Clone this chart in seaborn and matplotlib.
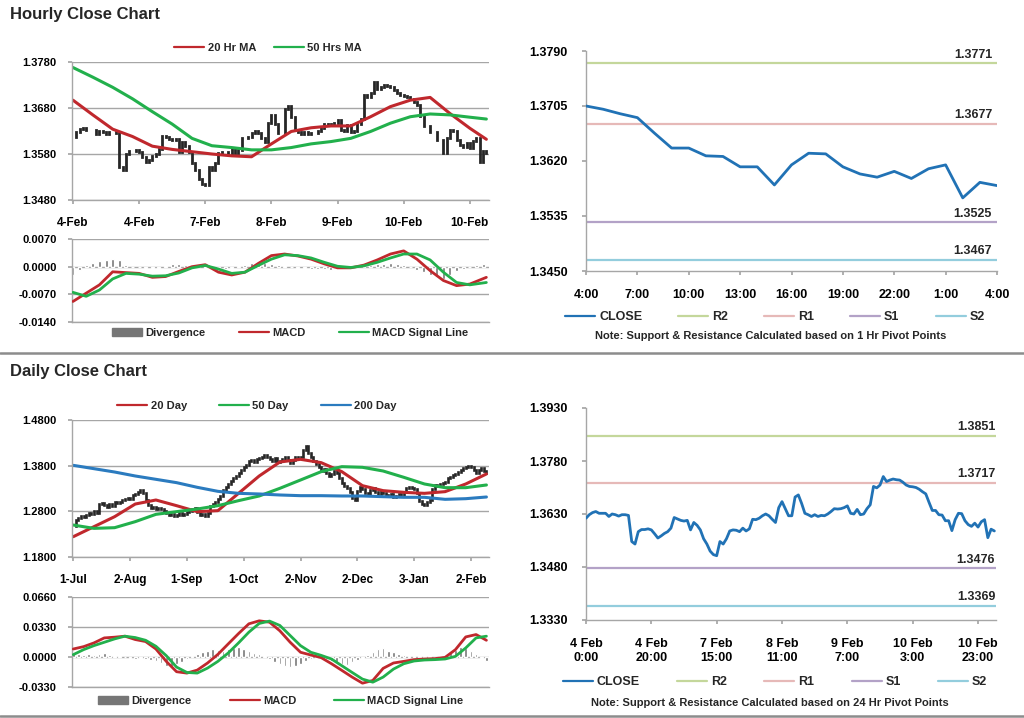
import numpy as np
import matplotlib
matplotlib.use("Agg")
import matplotlib.pyplot as plt
from matplotlib.lines import Line2D
from matplotlib.patches import Patch
import seaborn as sns

# ---------------- hourly data (126 hourly bars, 4-Feb .. 10-Feb) ----------------
hourly_close = [
    1.3618, 1.3628, 1.3634, 1.3637, 1.3632, 1.3632, 1.3632, 1.3623, 1.3630, 1.3628,
    1.3624, 1.3628, 1.3628, 1.3626, 1.3552, 1.3545, 1.3580, 1.3586, 1.3586, 1.3588,
    1.3585, 1.3574, 1.3562, 1.3568, 1.3575, 1.3580, 1.3590, 1.3620, 1.3616, 1.3612,
    1.3610, 1.3612, 1.3585, 1.3606, 1.3598, 1.3585, 1.3560, 1.3545, 1.3525, 1.3515,
    1.3512, 1.3552, 1.3545, 1.3560, 1.3582, 1.3585, 1.3584, 1.3580, 1.3590, 1.3582,
    1.3588, 1.3615, 1.3614, 1.3618, 1.3625, 1.3630, 1.3625, 1.3615, 1.3606, 1.3648,
    1.3665, 1.3645, 1.3625, 1.3625, 1.3678, 1.3684, 1.3660, 1.3632, 1.3628, 1.3623,
    1.3628, 1.3623, 1.3626, 1.3625, 1.3630, 1.3637, 1.3645, 1.3644, 1.3645, 1.3648,
    1.3653, 1.3632, 1.3630, 1.3643, 1.3628, 1.3630, 1.3645, 1.3656, 1.3708, 1.3704,
    1.3712, 1.3736, 1.3722, 1.3726, 1.3729, 1.3727, 1.3726, 1.3720, 1.3712, 1.3708,
    1.3707, 1.3705, 1.3700, 1.3693, 1.3687, 1.3663, 1.3640, 1.3640, 1.3628, 1.3627,
    1.3611, 1.3611, 1.3583, 1.3614, 1.3632, 1.3631, 1.3611, 1.3600, 1.3595, 1.3604,
    1.3593, 1.3608, 1.3614, 1.3563, 1.3587, 1.3582,
]
hourly_tick_pos = [0, 20, 40, 60, 80, 100, 120]
hourly_tick_labels = ["4-Feb", "4-Feb", "7-Feb", "8-Feb", "9-Feb", "10-Feb", "10-Feb"]

ma_idx_h = [0, 6, 12, 18, 24, 30, 36, 42, 48, 54, 60, 66, 72, 78, 84, 90, 96, 102, 108, 114, 120, 125]
ma20_h = [1.3697, 1.3665, 1.3634, 1.3618, 1.3597, 1.3590, 1.3585, 1.3580, 1.3576, 1.3574, 1.3602,
          1.3629, 1.3637, 1.3641, 1.3641, 1.3661, 1.3683, 1.3697, 1.3703, 1.3668, 1.3636, 1.3612]
ma50_h = [1.3768, 1.3747, 1.3725, 1.3700, 1.3672, 1.3645, 1.3614, 1.3598, 1.3594, 1.3589, 1.3589,
          1.3594, 1.3602, 1.3607, 1.3614, 1.3629, 1.3647, 1.3661, 1.3667, 1.3665, 1.3660, 1.3656]

macd_idx_h = list(range(0, 121, 4)) + [125]
macd_h = [-0.0088, -0.0067, -0.0046, -0.0013, -0.0015, -0.0017, -0.0027, -0.0025, -0.0012, 0.0000,
          0.0005, -0.0014, -0.0021, -0.0014, 0.0008, 0.0028, 0.0032, 0.0027, 0.0019, 0.0007,
          -0.0003, -0.0003, 0.0004, 0.0017, 0.0032, 0.0040, 0.0019, -0.0010, -0.0035, -0.0048,
          -0.0044, -0.0027]
signal_h = [-0.0065, -0.0075, -0.0059, -0.0031, -0.0017, -0.0019, -0.0024, -0.0023, -0.0016, -0.0003,
            0.0003, -0.0006, -0.0017, -0.0014, 0.0003, 0.0019, 0.0030, 0.0028, 0.0022, 0.0011,
            0.0001, -0.0002, 0.0002, 0.0011, 0.0022, 0.0032, 0.0032, 0.0017, -0.0014, -0.0040,
            -0.0046, -0.0040]
div_idx_h = list(range(0, 125, 2))
div_h = [-0.0020, -0.0008, 0.0004, 0.0010, 0.0014, 0.0017, 0.0020, 0.0016, 0.0004, -0.0002,
         -0.0002, -0.0004, -0.0004, -0.0003, 0.0002, 0.0006, 0.0006, 0.0005, 0.0003, 0.0002,
         -0.0003, -0.0006, -0.0008, -0.0006, -0.0004, 0.0001, 0.0005, 0.0009, 0.0011, 0.0010,
         0.0008, 0.0004, 0.0002, -0.0002, -0.0003, -0.0004, -0.0005, -0.0006, -0.0007, -0.0008,
         -0.0005, -0.0002, -0.0001, 0.0001, 0.0003, 0.0005, 0.0007, 0.0008, 0.0009, 0.0008,
         0.0005, -0.0002, -0.0008, -0.0014, -0.0020, -0.0026, -0.0030, -0.0020, -0.0012, -0.0006,
         -0.0002, 0.0005, 0.0008]

# last 25 hours with 1 Hr pivots
pivot_hour_labels = ["4:00", "7:00", "10:00", "13:00", "16:00", "19:00", "22:00", "1:00", "4:00"]
pivots_1h = [("R2", 1.3771), ("R1", 1.3677), ("S1", 1.3525), ("S2", 1.3467)]

# week of hourly closes with 24 Hr pivots
week_tick_labels = ["4 Feb\n0:00", "4 Feb\n20:00", "7 Feb\n15:00", "8 Feb\n11:00",
                    "9 Feb\n7:00", "10 Feb\n3:00", "10 Feb\n23:00"]
pivots_24h = [("R2", 1.3851), ("R1", 1.3717), ("S1", 1.3476), ("S2", 1.3369)]

# ---------------- daily data (161 sessions, 1-Jul .. 10-Feb) ----------------
daily_close = [
    1.2480, 1.2620, 1.2650, 1.2700, 1.2680, 1.2720, 1.2760, 1.2740, 1.2800, 1.2760,
    1.2960, 1.2990, 1.2940, 1.2900, 1.2950, 1.2920, 1.3000, 1.2980, 1.3010, 1.3040,
    1.3060, 1.3100, 1.3080, 1.3150, 1.3180, 1.3220, 1.3260, 1.3200, 1.3050, 1.2940,
    1.2880, 1.2900, 1.2860, 1.2870, 1.2850, 1.2800, 1.2760, 1.2720, 1.2740, 1.2700,
    1.2720, 1.2760, 1.2720, 1.2740, 1.2780, 1.2800, 1.2850, 1.2880, 1.2780, 1.2720,
    1.2740, 1.2700, 1.2760, 1.2920, 1.2950, 1.3000, 1.3060, 1.3140, 1.3260, 1.3340,
    1.3400, 1.3460, 1.3520, 1.3580, 1.3640, 1.3700, 1.3760, 1.3820, 1.3900, 1.3920,
    1.3880, 1.3940, 1.3960, 1.4000, 1.4040, 1.3980, 1.3940, 1.3900, 1.3960, 1.3880,
    1.3900, 1.3940, 1.3980, 1.3920, 1.3860, 1.3920, 1.3980, 1.3960, 1.4000, 1.4150,
    1.4220, 1.4080, 1.3980, 1.3900, 1.3840, 1.3760, 1.3680, 1.3720, 1.3640, 1.3580,
    1.3620, 1.3680, 1.3640, 1.3540, 1.3420, 1.3360, 1.3300, 1.3220, 1.3100, 1.3040,
    1.3240, 1.3340, 1.3280, 1.3200, 1.3180, 1.3260, 1.3320, 1.3220, 1.3180, 1.3240,
    1.3200, 1.3160, 1.3140, 1.3180, 1.3120, 1.3140, 1.3180, 1.3160, 1.3220, 1.3300,
    1.3340, 1.3300, 1.3280, 1.3200, 1.3020, 1.2960, 1.2940, 1.3000, 1.3040, 1.3280,
    1.3380, 1.3360, 1.3400, 1.3420, 1.3440, 1.3520, 1.3560, 1.3600, 1.3620, 1.3660,
    1.3700, 1.3740, 1.3760, 1.3800, 1.3780, 1.3700, 1.3640, 1.3700, 1.3740, 1.3680,
    1.3640,
]
daily_tick_pos = [0, 22, 44, 66, 88, 110, 132, 154]
daily_tick_labels = ["1-Jul", "2-Aug", "1-Sep", "1-Oct", "2-Nov", "2-Dec", "3-Jan", "2-Feb"]

ma_idx_d = list(range(0, 161, 8))
ma20_d = [1.2245, 1.2464, 1.2683, 1.2960, 1.3048, 1.2924, 1.2793, 1.2815, 1.3194, 1.3574, 1.3880,
          1.3939, 1.3866, 1.3669, 1.3362, 1.3253, 1.3216, 1.3194, 1.3231, 1.3399, 1.3618]
ma50_d = [1.2500, 1.2427, 1.2442, 1.2574, 1.2734, 1.2793, 1.2851, 1.2924, 1.3034, 1.3136, 1.3304,
          1.3486, 1.3669, 1.3778, 1.3764, 1.3683, 1.3545, 1.3399, 1.3318, 1.3318, 1.3377]
ma200_d = [1.3807, 1.3734, 1.3661, 1.3574, 1.3501, 1.3428, 1.3326, 1.3238, 1.3194, 1.3180, 1.3158,
           1.3143, 1.3143, 1.3136, 1.3136, 1.3121, 1.3107, 1.3107, 1.3063, 1.3077, 1.3114]

macd_idx_d = list(range(0, 161, 4))
macd_d = [0.0088, 0.0114, 0.0155, 0.0210, 0.0218, 0.0229, 0.0192, 0.0170, 0.0088, -0.0048,
          -0.0162, -0.0177, -0.0144, -0.0066, 0.0029, 0.0144, 0.0258, 0.0365, 0.0398, 0.0383,
          0.0288, 0.0162, 0.0052, 0.0022, -0.0007, -0.0074, -0.0147, -0.0221, -0.0288, -0.0258,
          -0.0125, -0.0066, -0.0048, -0.0029, -0.0022, -0.0018, -0.0004, 0.0081, 0.0221, 0.0247,
          0.0184]
signal_d = [0.0026, 0.0081, 0.0125, 0.0162, 0.0199, 0.0229, 0.0214, 0.0184, 0.0118, 0.0015,
            -0.0111, -0.0170, -0.0177, -0.0122, -0.0048, 0.0044, 0.0155, 0.0273, 0.0369, 0.0395,
            0.0347, 0.0236, 0.0125, 0.0052, 0.0018, -0.0022, -0.0096, -0.0170, -0.0243, -0.0277,
            -0.0221, -0.0133, -0.0074, -0.0044, -0.0033, -0.0029, -0.0022, 0.0007, 0.0100, 0.0210,
            0.0229]
div_idx_d = list(range(0, 161, 2))
div_d = [0.0040, 0.0030, 0.0025, 0.0030, 0.0020, 0.0030, 0.0045, 0.0020, 0.0015, 0.0010,
         0.0005, -0.0010, -0.0020, -0.0015, -0.0025, -0.0030, -0.0040, -0.0070, -0.0100, -0.0120,
         -0.0080, -0.0050, -0.0020, 0.0010, 0.0030, 0.0060, 0.0070, 0.0090, 0.0080, 0.0070,
         0.0085, 0.0100, 0.0110, 0.0090, 0.0070, 0.0040, 0.0030, 0.0010, -0.0020, -0.0050,
         -0.0080, -0.0100, -0.0110, -0.0100, -0.0080, -0.0040, -0.0020, -0.0010, -0.0005, -0.0020,
         -0.0040, -0.0060, -0.0080, -0.0085, -0.0060, -0.0030, -0.0010, 0.0020, 0.0060, 0.0090,
         0.0100, 0.0070, 0.0050, 0.0030, 0.0020, 0.0015, 0.0010, 0.0010, 0.0008, 0.0008,
         0.0005, 0.0010, 0.0020, 0.0050, 0.0080, 0.0110, 0.0100, 0.0070, 0.0030, -0.0010,
         -0.0040]

# ---------------- style ----------------
sns.set_theme(style="white")
plt.rcParams["font.family"] = ["Liberation Sans", "DejaVu Sans"]
plt.rcParams["font.weight"] = "bold"

RED = "#c0282d"
GREEN = "#22b04c"
BLUE = "#2b7bbf"
CLOSE_BLUE = "#2172b5"
GRID = "#a6a6a6"
BAR_GREY = "#767676"
CANDLE = "#262626"
PIVOT_COLORS = {"R2": "#c4d79b", "R1": "#e6b9b8", "S1": "#b3a2c7", "S2": "#93cddd"}

W, H = 1024, 718
fig = plt.figure(figsize=(W / 100, H / 100), dpi=100)


def add_ax(left, top, right, bottom):
    return fig.add_axes([left / W, 1 - bottom / H, (right - left) / W, (bottom - top) / H])


def style_axes(ax, yticks, xticks=None, xlabels=None, fs_y=8, fs_x=8.5, grid=True, ypad=8, xpad=9):
    ax.set_ylim(yticks[0], yticks[-1])
    ax.set_yticks(yticks)
    ax.set_yticklabels([f"{v:.4f}" for v in yticks], fontsize=fs_y, fontweight="bold")
    if xticks is not None:
        ax.set_xticks(xticks)
        ax.set_xticklabels(xlabels, fontsize=fs_x, fontweight="bold")
    else:
        ax.set_xticks([])
    ax.grid(False)
    if grid:
        ax.yaxis.grid(True, color=GRID, lw=1)
    ax.set_axisbelow(True)
    for s in ("top", "right"):
        ax.spines[s].set_visible(False)
    for s in ("left", "bottom"):
        ax.spines[s].set_color(GRID)
        ax.spines[s].set_linewidth(1)
    ax.tick_params(axis="y", left=True, length=3, color=GRID, pad=ypad, colors="black")
    ax.tick_params(axis="x", bottom=True, length=3, color=GRID, pad=xpad, colors="black")
    ax.set_xlabel("")
    ax.set_ylabel("")


def draw_candles(ax, closes, lw):
    # body of each bar runs from the previous close to this close
    x = np.arange(len(closes))
    c = np.array(closes)
    o = np.concatenate([[c[0]], c[:-1]])
    bars = ax.vlines(x, np.minimum(o, c), np.maximum(o, c), color=CANDLE, lw=lw)
    bars.set_capstyle("projecting")


def legend(handles, labels, cx, cy, fs, colsp, hl=2.7):
    leg = fig.legend(handles, labels, loc="center", bbox_to_anchor=(cx / W, 1 - cy / H),
                     ncol=len(handles), frameon=False, fontsize=fs, handlelength=hl,
                     handletextpad=0.3, columnspacing=colsp, borderaxespad=0, borderpad=0)
    for t in leg.get_texts():
        t.set_fontweight("bold")
    return leg


def line(color, lw=1.6):
    return Line2D([], [], color=color, lw=lw)


def pivot_chart(ax, x, closes, levels, yticks, xticks, xlabels, label_x):
    for name, val in levels:
        ax.axhline(val, color=PIVOT_COLORS[name], lw=1.6, zorder=1)
        ax.annotate(f"{val:.4f}", xy=(label_x, val), xycoords=ax.get_yaxis_transform(),
                    xytext=(0, 2), textcoords="offset points", ha="right", va="bottom",
                    fontsize=9, fontweight="bold")
    sns.lineplot(x=x, y=closes, ax=ax, color=CLOSE_BLUE, lw=2, legend=False, zorder=3)
    style_axes(ax, yticks, xticks, xlabels, fs_y=9, fs_x=9, grid=False, ypad=10, xpad=10)


# ---------------- hourly candle chart ----------------
ax1 = add_ax(72, 62, 489, 200)
draw_candles(ax1, hourly_close, 2.0)
sns.lineplot(x=ma_idx_h, y=ma20_h, ax=ax1, color=RED, lw=2.2, legend=False)
sns.lineplot(x=ma_idx_h, y=ma50_h, ax=ax1, color=GREEN, lw=2.2, legend=False)
ax1.set_xlim(-0.3, 125.8)
style_axes(ax1, [1.3480, 1.3580, 1.3680, 1.3780], hourly_tick_pos, hourly_tick_labels)
legend([line(RED), line(GREEN)], ["20 Hr MA", "50 Hrs MA"], 268, 48, 8, 1.6)

# ---------------- hourly MACD ----------------
ax2 = add_ax(72, 239, 489, 322)
ax2.bar(div_idx_h, div_h, width=0.9, color=BAR_GREY, zorder=2)
sns.lineplot(x=macd_idx_h, y=macd_h, ax=ax2, color=RED, lw=2, legend=False, zorder=3)
sns.lineplot(x=macd_idx_h, y=signal_h, ax=ax2, color=GREEN, lw=2, legend=False, zorder=3)
ax2.set_xlim(-0.3, 125.8)
style_axes(ax2, [-0.0140, -0.0070, 0.0000, 0.0070])
ax2.tick_params(axis="x", bottom=False)
legend([Patch(color=BAR_GREY), line(RED), line(GREEN)], ["Divergence", "MACD", "MACD Signal Line"],
       290, 333, 8, 3.0)

# ---------------- 1 Hr pivot chart ----------------
ax3 = add_ax(586, 51, 997, 271)
last_hours = hourly_close[-25:]
pivot_chart(ax3, list(range(25)), last_hours, pivots_1h,
            [1.3450, 1.3535, 1.3620, 1.3705, 1.3790], list(range(0, 25, 3)), pivot_hour_labels, 0.988)
ax3.set_xlim(0, 24)
legend([line(CLOSE_BLUE), line(PIVOT_COLORS["R2"]), line(PIVOT_COLORS["R1"]),
        line(PIVOT_COLORS["S1"]), line(PIVOT_COLORS["S2"])],
       ["CLOSE", "R2", "R1", "S1", "S2"], 775, 317, 9, 2.9, hl=2.4)
fig.text(771 / W, 1 - 336 / H, "Note: Support & Resistance Calculated based on 1 Hr Pivot Points",
         ha="center", va="center", fontsize=8, fontweight="bold")

# ---------------- section titles and separators ----------------
fig.text(10 / W, 1 - 15 / H, "Hourly Close Chart", fontsize=12, fontweight="bold", va="center")
fig.text(10 / W, 1 - 372 / H, "Daily Close Chart", fontsize=12, fontweight="bold", va="center")
for yy in (353, 716):
    fig.add_artist(Line2D([0, 1], [1 - yy / H] * 2, color="#8c8c8c", lw=1.8, transform=fig.transFigure))

# ---------------- daily candle chart ----------------
ax4 = add_ax(72, 420, 489, 557)
draw_candles(ax4, daily_close, 1.9)
sns.lineplot(x=ma_idx_d, y=ma20_d, ax=ax4, color=RED, lw=2.2, legend=False)
sns.lineplot(x=ma_idx_d, y=ma50_d, ax=ax4, color=GREEN, lw=2.2, legend=False)
sns.lineplot(x=ma_idx_d, y=ma200_d, ax=ax4, color=BLUE, lw=2.2, legend=False)
ax4.set_xlim(-0.5, 161)
style_axes(ax4, [1.1800, 1.2800, 1.3800, 1.4800], daily_tick_pos, daily_tick_labels)
legend([line(RED), line(GREEN), line(BLUE)], ["20 Day", "50 Day", "200 Day"], 257, 406, 8, 2.9)

# ---------------- daily MACD ----------------
ax5 = add_ax(72, 597, 489, 687)
ax5.bar(div_idx_d, div_d, width=1.0, color=BAR_GREY, zorder=2)
sns.lineplot(x=macd_idx_d, y=macd_d, ax=ax5, color=RED, lw=2, legend=False, zorder=3)
sns.lineplot(x=macd_idx_d, y=signal_d, ax=ax5, color=GREEN, lw=2, legend=False, zorder=3)
ax5.set_xlim(-0.5, 161)
style_axes(ax5, [-0.0330, 0.0000, 0.0330, 0.0660])
ax5.tick_params(axis="x", bottom=False)
legend([Patch(color=BAR_GREY), line(RED), line(GREEN)], ["Divergence", "MACD", "MACD Signal Line"],
       281, 701, 8, 3.4)

# ---------------- 24 Hr pivot chart ----------------
ax6 = add_ax(586, 408, 996, 620)
pivot_chart(ax6, list(range(len(hourly_close))), hourly_close, pivots_24h,
            [1.3330, 1.3480, 1.3630, 1.3780, 1.3930], hourly_tick_pos, week_tick_labels, 0.998)
ax6.set_xlim(0, 125.5)
legend([line(CLOSE_BLUE), line(PIVOT_COLORS["R2"]), line(PIVOT_COLORS["R1"]),
        line(PIVOT_COLORS["S1"]), line(PIVOT_COLORS["S2"])],
       ["CLOSE", "R2", "R1", "S1", "S2"], 775, 682, 9, 3.0, hl=2.4)
fig.text(770 / W, 1 - 703 / H, "Note: Support & Resistance Calculated based on 24 Hr Pivot Points",
         ha="center", va="center", fontsize=8, fontweight="bold")

fig.savefig("out.png", dpi=100)
